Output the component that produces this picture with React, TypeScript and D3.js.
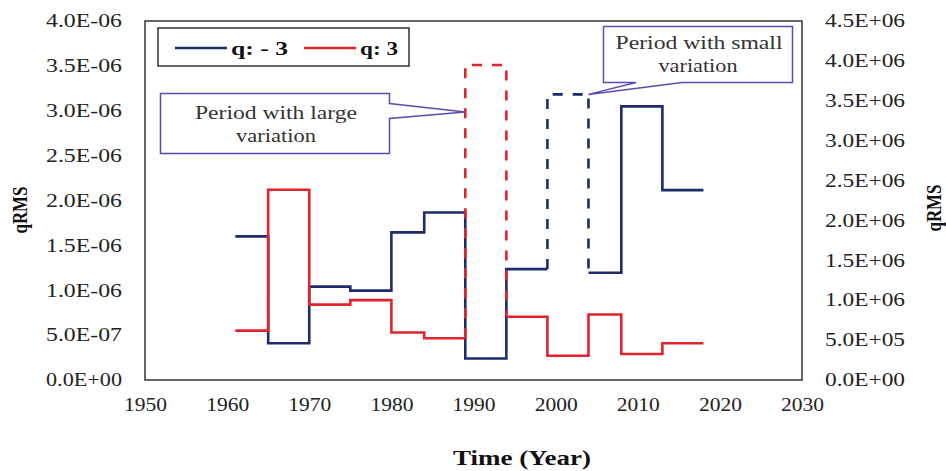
import React, { useEffect, useRef } from 'react';
import * as d3 from 'd3';

// step boundaries (years) shared by both series
const years = [1961, 1965, 1970, 1975, 1980, 1984, 1989, 1994, 1999, 2004, 2008, 2013, 2018];

// q = -3 (right axis), one value per interval
const qNeg3 = [1.8e6, 0.46e6, 1.17e6, 1.12e6, 1.85e6, 2.1e6, 0.27e6, 1.39e6, 3.58e6, 1.345e6, 3.43e6, 2.38e6];
const qNeg3Dashed = [false, false, false, false, false, false, false, false, true, false, false, false];

// q = 3 (left axis)
const qPos3 = [0.55e-6, 2.12e-6, 0.84e-6, 0.89e-6, 0.53e-6, 0.465e-6, 3.51e-6, 0.705e-6, 0.27e-6, 0.73e-6, 0.29e-6, 0.41e-6];
const qPos3Dashed = [false, false, false, false, false, false, true, false, false, false, false, false];

const xTicks = [1950, 1960, 1970, 1980, 1990, 2000, 2010, 2020, 2030];
const leftTicks = [0, 0.5e-6, 1e-6, 1.5e-6, 2e-6, 2.5e-6, 3e-6, 3.5e-6, 4e-6];
const rightTicks = [0, 0.5e6, 1e6, 1.5e6, 2e6, 2.5e6, 3e6, 3.5e6, 4e6, 4.5e6];

const BLUE = '#1d2a6c';
const RED = '#e2232b';
const CALLOUT = '#5b4eb3';
const FONT = 'Liberation Serif, Times New Roman, serif';

function sciFormat(v: number) {
  const [m, e] = v.toExponential(1).split('e');
  const n = +e;
  return `${m}E${n < 0 ? '-' : '+'}${String(Math.abs(n)).padStart(2, '0')}`;
}

// split a step series into runs of solid / dashed polylines
function stepRuns(vals: number[], dashed: boolean[]) {
  const runs: { pts: [number, number][]; dashed: boolean }[] = [];
  const push = (a: [number, number], b: [number, number], d: boolean) => {
    const last = runs[runs.length - 1];
    if (last && last.dashed === d) last.pts.push(b);
    else runs.push({ pts: [a, b], dashed: d });
  };
  for (let i = 0; i < vals.length; i++) {
    if (i > 0) push([years[i], vals[i - 1]], [years[i], vals[i]], dashed[i] || dashed[i - 1]);
    push([years[i], vals[i]], [years[i + 1], vals[i]], dashed[i]);
  }
  return runs;
}

export default function App() {
  const ref = useRef<SVGSVGElement>(null);

  useEffect(() => {
    if (!ref.current) return;
    const svg = d3.select(ref.current);
    svg.selectAll('*').remove();

    const left = 145, right = 802, top = 21, bottom = 380;

    const x = d3.scaleLinear().domain([1950, 2030]).range([left, right]);
    const yL = d3.scaleLinear().domain([0, 4e-6]).range([bottom, top]);
    const yR = d3.scaleLinear().domain([0, 4.5e6]).range([bottom, top]);

    svg.append('rect').attr('width', 946).attr('height', 471).attr('fill', '#fff');

    // plot frame
    svg.append('rect')
      .attr('x', left).attr('y', top)
      .attr('width', right - left).attr('height', bottom - top)
      .attr('fill', 'none').attr('stroke', '#333').attr('stroke-width', 1.5);

    const styleAxis = (g: any, len: number, size: number) => {
      g.select('.domain').remove();
      g.selectAll('line').remove();
      g.selectAll('text')
        .attr('font-family', FONT)
        .attr('font-size', size)
        .attr('fill', '#222')
        .attr('textLength', len)
        .attr('lengthAdjust', 'spacingAndGlyphs');
    };

    svg.append('g')
      .attr('transform', `translate(${left},0)`)
      .call(d3.axisLeft(yL).tickValues(leftTicks).tickSize(0).tickPadding(23).tickFormat(d => sciFormat(+d)))
      .call(g => styleAxis(g, 76, 18));

    svg.append('g')
      .attr('transform', `translate(${right},0)`)
      .call(d3.axisRight(yR).tickValues(rightTicks).tickSize(0).tickPadding(23).tickFormat(d => sciFormat(+d)))
      .call(g => styleAxis(g, 80, 18));

    svg.append('g')
      .attr('transform', `translate(0,${bottom})`)
      .call(d3.axisBottom(x).tickValues(xTicks).tickSize(0).tickPadding(18).tickFormat(d3.format('d')))
      .call(g => styleAxis(g, 43, 19));

    // axis titles
    const title = (txt: string, tx: number, ty: number, rot: number, len: number, size: number) =>
      svg.append('text')
        .attr('transform', `translate(${tx},${ty}) rotate(${rot})`)
        .attr('text-anchor', 'middle')
        .attr('dy', '0.35em')
        .attr('textLength', len)
        .attr('lengthAdjust', 'spacingAndGlyphs')
        .attr('font-family', FONT)
        .attr('font-size', size)
        .attr('font-weight', 'bold')
        .attr('fill', '#111')
        .text(txt);
    title('qRMS', 19, 210, -90, 47, 22);
    title('qRMS', 933, 208, -90, 47, 22);
    title('Time (Year)', 522, 458, 0, 138, 21);

    // step lines
    const line = d3.line<[number, number]>();
    const drawSeries = (vals: number[], dashed: boolean[], yS: d3.ScaleLinear<number, number>, color: string) => {
      stepRuns(vals, dashed).forEach(run => {
        svg.append('path')
          .attr('d', line(run.pts.map(p => [x(p[0]), yS(p[1])] as [number, number])))
          .attr('fill', 'none')
          .attr('stroke', color)
          .attr('stroke-width', 2.6)
          .attr('stroke-linejoin', 'miter')
          .attr('stroke-dasharray', run.dashed ? '10,10' : null);
      });
    };
    drawSeries(qNeg3, qNeg3Dashed, yR, BLUE);
    drawSeries(qPos3, qPos3Dashed, yL, RED);

    // legend
    const lg = svg.append('g');
    lg.append('rect').attr('x', 158).attr('y', 28).attr('width', 251).attr('height', 38)
      .attr('fill', '#fff').attr('stroke', '#111').attr('stroke-width', 1.3);
    const legendItem = (x0: number, color: string, label: string, len: number) => {
      lg.append('line').attr('x1', x0).attr('x2', x0 + 52).attr('y1', 48).attr('y2', 48)
        .attr('stroke', color).attr('stroke-width', 2.6);
      lg.append('text').attr('x', x0 + 56).attr('y', 48).attr('dy', '0.35em')
        .attr('textLength', len).attr('lengthAdjust', 'spacingAndGlyphs')
        .attr('font-family', FONT).attr('font-size', 19).attr('font-weight', 'bold')
        .attr('fill', '#111').text(label);
    };
    legendItem(175, BLUE, 'q: - 3', 57);
    legendItem(304, RED, 'q: 3', 38);

    // callouts
    const tip1: [number, number] = [x(1989), 112];
    const tip2: [number, number] = [x(2004), yR(qNeg3[8])];
    svg.append('path')
      .attr('d', `M160.5,93.5 H389.5 V103.5 L${tip1[0]},${tip1[1]} L389.5,118.5 V153.5 H160.5 Z`)
      .attr('fill', '#fff').attr('fill-opacity', 0.9)
      .attr('stroke', CALLOUT).attr('stroke-width', 1.5);
    svg.append('path')
      .attr('d', `M603.5,26.5 H792.5 V82.5 H682 L${tip2[0]},${tip2[1]} L636,82.5 H603.5 Z`)
      .attr('fill', '#fff').attr('fill-opacity', 0.9)
      .attr('stroke', CALLOUT).attr('stroke-width', 1.5);

    const note = (txt: string, cx: number, cy: number, len: number) =>
      svg.append('text').attr('x', cx).attr('y', cy).attr('dy', '0.35em')
        .attr('text-anchor', 'middle')
        .attr('textLength', len).attr('lengthAdjust', 'spacingAndGlyphs')
        .attr('font-family', FONT).attr('font-size', 18)
        .attr('fill', '#333').text(txt);
    note('Period with large', 276, 113, 162);
    note('variation', 276, 136, 80);
    note('Period with small', 699, 43, 167);
    note('variation', 698, 66, 79);
  }, []);

  return (
    <svg
      ref={ref}
      width={946}
      height={471}
      style={{ position: 'absolute', left: 0, top: 0, display: 'block' }}
    />
  );
}
